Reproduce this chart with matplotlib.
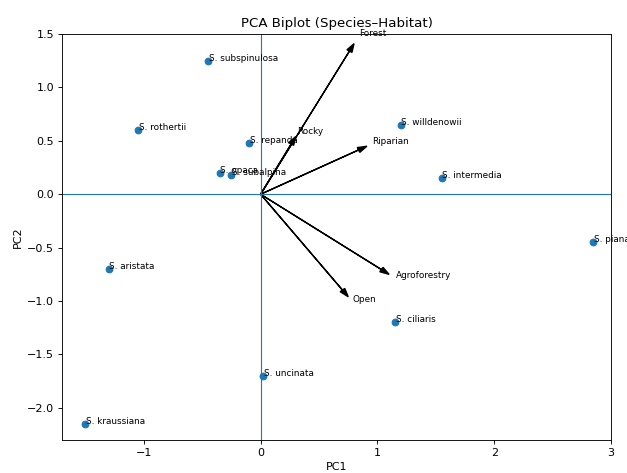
import matplotlib
matplotlib.use("Agg")
import matplotlib.pyplot as plt

species = ["S. subspinulosa", "S. rothertii", "S. repanda", "S. willdenowii",
           "S. opaca", "S. subalpina", "S. intermedia", "S. piana",
           "S. aristata", "S. ciliaris", "S. uncinata", "S. kraussiana"]
pc1 = [-0.45, -1.05, -0.10, 1.20, -0.35, -0.25, 1.55, 2.85, -1.30, 1.15, 0.02, -1.50]
pc2 = [1.25, 0.60, 0.48, 0.65, 0.20, 0.18, 0.15, -0.45, -0.70, -1.20, -1.70, -2.15]

habitats = ["Forest", "Rocky", "Riparian", "Agroforestry", "Open"]
load1 = [0.80, 0.30, 0.91, 1.10, 0.75]
load2 = [1.41, 0.54, 0.45, -0.75, -0.96]

# figure drawn at 80 dpi so fonts come out at the reference's scale
fig, ax = plt.subplots(figsize=(6.27 / 0.8, 4.73 / 0.8), dpi=80)
fig.subplots_adjust(left=0.099, right=0.9745, top=0.928, bottom=0.070)

ax.scatter(pc1, pc2)
for name, x, y in zip(species, pc1, pc2):
    ax.text(x + 0.005, y, name, fontsize=8)

for name, dx, dy in zip(habitats, load1, load2):
    ax.arrow(0, 0, dx, dy, color="k", head_width=0.05, head_length=0.08,
             length_includes_head=True, lw=1.2)
    ax.text(dx * 1.05, dy * 1.05, name, fontsize=8)

ax.axhline(0, lw=1)
ax.axvline(0, lw=1)
ax.set_xlim(-1.7, 3.0)
ax.set_ylim(-2.3, 1.5)
ax.set_xlabel("PC1")
ax.set_ylabel("PC2")
ax.set_title("PCA Biplot (Species–Habitat)")

fig.savefig("out.png", dpi=80)
